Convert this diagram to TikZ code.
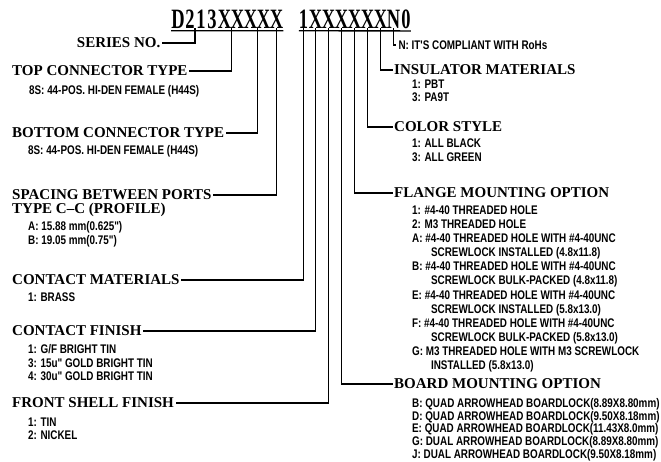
\documentclass[tikz,border=0pt]{standalone}
\usepackage{fontspec}
\setmainfont{Liberation Serif}
\newfontfamily\cadsans{Liberation Sans}
\newcommand{\ind}{\hspace*{24pt}}

\begin{document}
\begin{tikzpicture}[x=1pt,y=-1pt,
   code/.style={font=\bfseries\fontsize{28}{28}\selectfont,xscale=.66,inner sep=0pt,anchor=base},
   head/.style={font=\bfseries\fontsize{15}{17}\selectfont,inner sep=1.5pt},
   items/.style={font=\cadsans\bfseries\fontsize{12.5}{13.6}\selectfont,xscale=.79,align=left,inner sep=0pt,anchor=north west},
   lead/.style={line width=1.5pt}]
   \useasboundingbox (0,0) rectangle (661,461);
   % part number
   \foreach \ch/\px [count=\i] in {D/178,2/190,1/201,3/212,X/224.5,X/237.5,X/250.5,X/263.5,X/276.5,1/303.5,X/315.5,X/328.5,X/341.5,X/354.5,X/367.5,X/380.5,N/393.5,0/406}
      \node[code] (c\i) at (\px,28) {\ch};
   \draw[line width=1.4pt] ([yshift=-2.5pt]c1.south west) -- ([yshift=-2.5pt]c9.south east);
   \draw[line width=1.4pt] ([yshift=-2.5pt]c10.south west) -- ([yshift=-2.5pt]c18.south east);
   % left column
   \node[head,anchor=east] (series) at (162,43) {SERIES NO.};
   \node[head,anchor=west] (top) at (10.5,71) {TOP CONNECTOR TYPE};
   \node[items] (topitems) at (29,85.5) {8S: 44-POS. HI-DEN FEMALE (H44S)};
   \node[head,anchor=west] (bottom) at (10.5,133) {BOTTOM CONNECTOR TYPE~};
   \node[items] (bottomitems) at (28,145.5) {8S: 44-POS. HI-DEN FEMALE (H44S)};
   \node[head,anchor=west] (spacing) at (10.5,195) {SPACING BETWEEN PORTS};
   \node[head,anchor=west] (profile) at (10.5,210) {TYPE C--C (PROFILE)};
   \node[items] (spacingitems) at (28,221.5) {A: 15.88 mm(0.625")\\B: 19.05 mm(0.75")};
   \node[head,anchor=west] (materials) at (10.5,280) {CONTACT MATERIALS};
   \node[items] (materialitems) at (28,292.5) {1: BRASS};
   \node[head,anchor=west] (finish) at (10.5,331) {CONTACT FINISH};
   \node[items] (finishitems) at (28,344.5) {1: G/F BRIGHT TIN\\3: 15u" GOLD BRIGHT TIN\\4: 30u" GOLD BRIGHT TIN};
   \node[head,anchor=west] (shell) at (10.5,403) {FRONT SHELL FINISH~};
   \node[items] (shellitems) at (28,417.5) {1: TIN\\2: NICKEL};
   % right column
   \node[items,anchor=west,inner sep=3pt] (rohs) at (396,45) {N: IT'S COMPLIANT WITH RoHs};
   \node[head,anchor=west] (insulator) at (392.5,70) {INSULATOR MATERIALS};
   \node[items] (insulatoritems) at (412,79.5) {1: PBT\\3: PA9T};
   \node[head,anchor=west] (color) at (392.5,127) {COLOR STYLE};
   \node[items] (coloritems) at (412,138.5) {1: ALL BLACK\\3: ALL GREEN};
   \node[head,anchor=west] (flange) at (392.5,193) {FLANGE MOUNTING OPTION};
   \node[items,font=\cadsans\bfseries\fontsize{12.5}{14.1}\selectfont] (flangeitems) at (412,205.5) {%
      1: \#4-40 THREADED HOLE\\
      2: M3 THREADED HOLE\\
      A: \#4-40 THREADED HOLE WITH \#4-40UNC\\
      \ind SCREWLOCK INSTALLED (4.8x11.8)\\
      B: \#4-40 THREADED HOLE WITH \#4-40UNC\\
      \ind SCREWLOCK BULK-PACKED (4.8x11.8)\\
      E: \#4-40 THREADED HOLE WITH \#4-40UNC\\
      \ind SCREWLOCK INSTALLED (5.8x13.0)\\
      F: \#4-40 THREADED HOLE WITH \#4-40UNC\\
      \ind SCREWLOCK BULK-PACKED (5.8x13.0)\\
      G: M3 THREADED HOLE WITH M3 SCREWLOCK\\
      \ind INSTALLED (5.8x13.0)};
   \node[head,anchor=west] (board) at (392.5,384) {BOARD MOUNTING OPTION};
   \node[items,font=\cadsans\bfseries\fontsize{12.5}{12.6}\selectfont] (boarditems) at (412,398.5) {%
      B: QUAD ARROWHEAD BOARDLOCK(8.89X8.80mm)\\
      D: QUAD ARROWHEAD BOARDLOCK(9.50X8.18mm)\\
      E: QUAD ARROWHEAD BOARDLOCK(11.43X8.0mm)\\
      G: DUAL ARROWHEAD BOARDLOCK(8.89X8.80mm)\\
      J: DUAL ARROWHEAD BOARDLOCK(9.50X8.18mm)};
   % leaders
   \draw[lead] (c2.south east) |- (series.east);
   \draw[lead] (c5.south east) |- (top.east);
   \draw[lead] (c7.south east) |- (bottom.east);
   \draw[lead] (c9.south) |- (spacing.east);
   \draw[lead] (c10.south) |- (materials.east);
   \draw[lead] (c11.south) |- (finish.east);
   \draw[lead] (c12.south) |- (shell.east);
   \draw[lead] (c13.south) |- (board.west);
   \draw[lead] (c14.south) |- (flange.west);
   \draw[lead] (c15.south) |- (color.west);
   \draw[lead] (c16.south) |- (insulator.west);
   \draw[lead] (c17.south) |- (rohs.west);
\end{tikzpicture}
\end{document}
